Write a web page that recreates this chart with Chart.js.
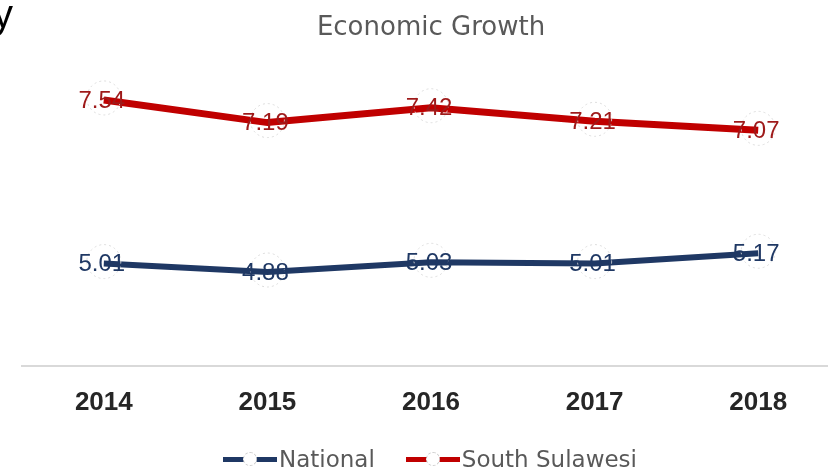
<!DOCTYPE html>
<html>
<head>
<meta charset="utf-8">
<script src="https://cdn.jsdelivr.net/npm/chart.js@4.4.1/dist/chart.umd.min.js"></script>
<style>
  html, body { margin: 0; padding: 0; background: #fff; overflow: hidden; }
  #wrap { position: relative; width: 828px; height: 472px; overflow: hidden; }
  #box { position: absolute; left: 0; top: 0; width: 862px; height: 472px; }
  #stray { position: absolute; left: -7px; top: -6px; font: 40px 'Liberation Sans', sans-serif; line-height: 40px; color: #000; }
  #legend { position: absolute; left: 223px; top: 446px; height: 26px; display: flex; align-items: center;
            font: 23px 'DejaVu Sans', sans-serif; color: #595959; white-space: nowrap; }
  .item { display: flex; align-items: center; }
  .item + .item { margin-left: 31px; }
  .icon { position: relative; width: 54px; height: 20px; margin-right: 2px; }
  .icon .bar { position: absolute; left: 0; right: 0; top: 8px; height: 5px; }
  .icon .dot { position: absolute; left: 20px; top: 3px; width: 12px; height: 12px; border-radius: 50%;
               background: #fff; border: 1px dashed #cfcfcf; }
</style>
</head>
<body>
<div id="wrap">
  <div id="box"><canvas id="chart" width="862" height="472"></canvas></div>
  <span id="stray">y</span>
  <div id="legend"></div>
</div>
<script>
// data
const years = ['2014', '2015', '2016', '2017', '2018'];
const national = [5.01, 4.88, 5.03, 5.01, 5.17];
const southSulawesi = [7.54, 7.19, 7.42, 7.21, 7.07];
const seriesNames = ['National', 'South Sulawesi'];
const lineColors = ['#1f3864', '#c00000'];
const labelColors = ['#1f3864', '#9e1a1a'];

// dashed circle + value drawn on every point
const valueLabels = {
  id: 'valueLabels',
  afterDatasetsDraw(chart) {
    const ctx = chart.ctx;
    chart.data.datasets.forEach((ds, i) => {
      const meta = chart.getDatasetMeta(i);
      meta.data.forEach((pt, j) => {
        ctx.save();
        ctx.beginPath();
        ctx.setLineDash([2, 3]);
        ctx.strokeStyle = '#dcdcdc';
        ctx.lineWidth = 1;
        ctx.arc(pt.x, pt.y - 2, 17, 0, Math.PI * 2);
        ctx.stroke();
        ctx.setLineDash([]);
        ctx.fillStyle = labelColors[i];
        ctx.font = "24px 'Liberation Sans', sans-serif";
        ctx.textAlign = 'center';
        ctx.textBaseline = 'middle';
        ctx.fillText(ds.data[j].toFixed(2), pt.x - 2, pt.y + 1);
        ctx.restore();
      });
    });
  }
};

new Chart('chart', {
  type: 'line',
  data: {
    labels: years,
    datasets: [
      { label: seriesNames[0], data: national, borderColor: lineColors[0], borderWidth: 6,
        pointRadius: 0, pointBorderWidth: 0, pointHoverRadius: 0 },
      { label: seriesNames[1], data: southSulawesi, borderColor: lineColors[1], borderWidth: 7,
        pointRadius: 0, pointBorderWidth: 0, pointHoverRadius: 0 }
    ]
  },
  options: {
    responsive: false,
    animation: false,
    layout: { padding: { left: 22, right: 22, bottom: 33, top: 0 } },
    elements: { line: { tension: 0 } },
    scales: {
      x: {
        offset: true,
        grid: { display: false, drawTicks: false },
        border: { color: '#d9d9d9', width: 2 },
        ticks: { color: '#262626', padding: 21, font: { family: "'Liberation Sans', sans-serif", size: 26, weight: 'bold' } }
      },
      y: { display: false, min: 3.43, max: 8.0 }
    },
    plugins: {
      legend: { display: false },
      tooltip: { enabled: false },
      title: {
        display: true,
        text: 'Economic Growth',
        color: '#595959',
        font: { family: "'DejaVu Sans', sans-serif", size: 26, weight: 'normal' },
        padding: { top: 13, bottom: 26 }
      }
    }
  },
  plugins: [valueLabels]
});

// legend
const legend = document.getElementById('legend');
seriesNames.forEach((name, i) => {
  const item = document.createElement('div');
  item.className = 'item';
  item.innerHTML = '<div class="icon"><div class="bar" style="background:' + lineColors[i] + '"></div><div class="dot"></div></div><span>' + name + '</span>';
  legend.appendChild(item);
});
</script>
</body>
</html>
